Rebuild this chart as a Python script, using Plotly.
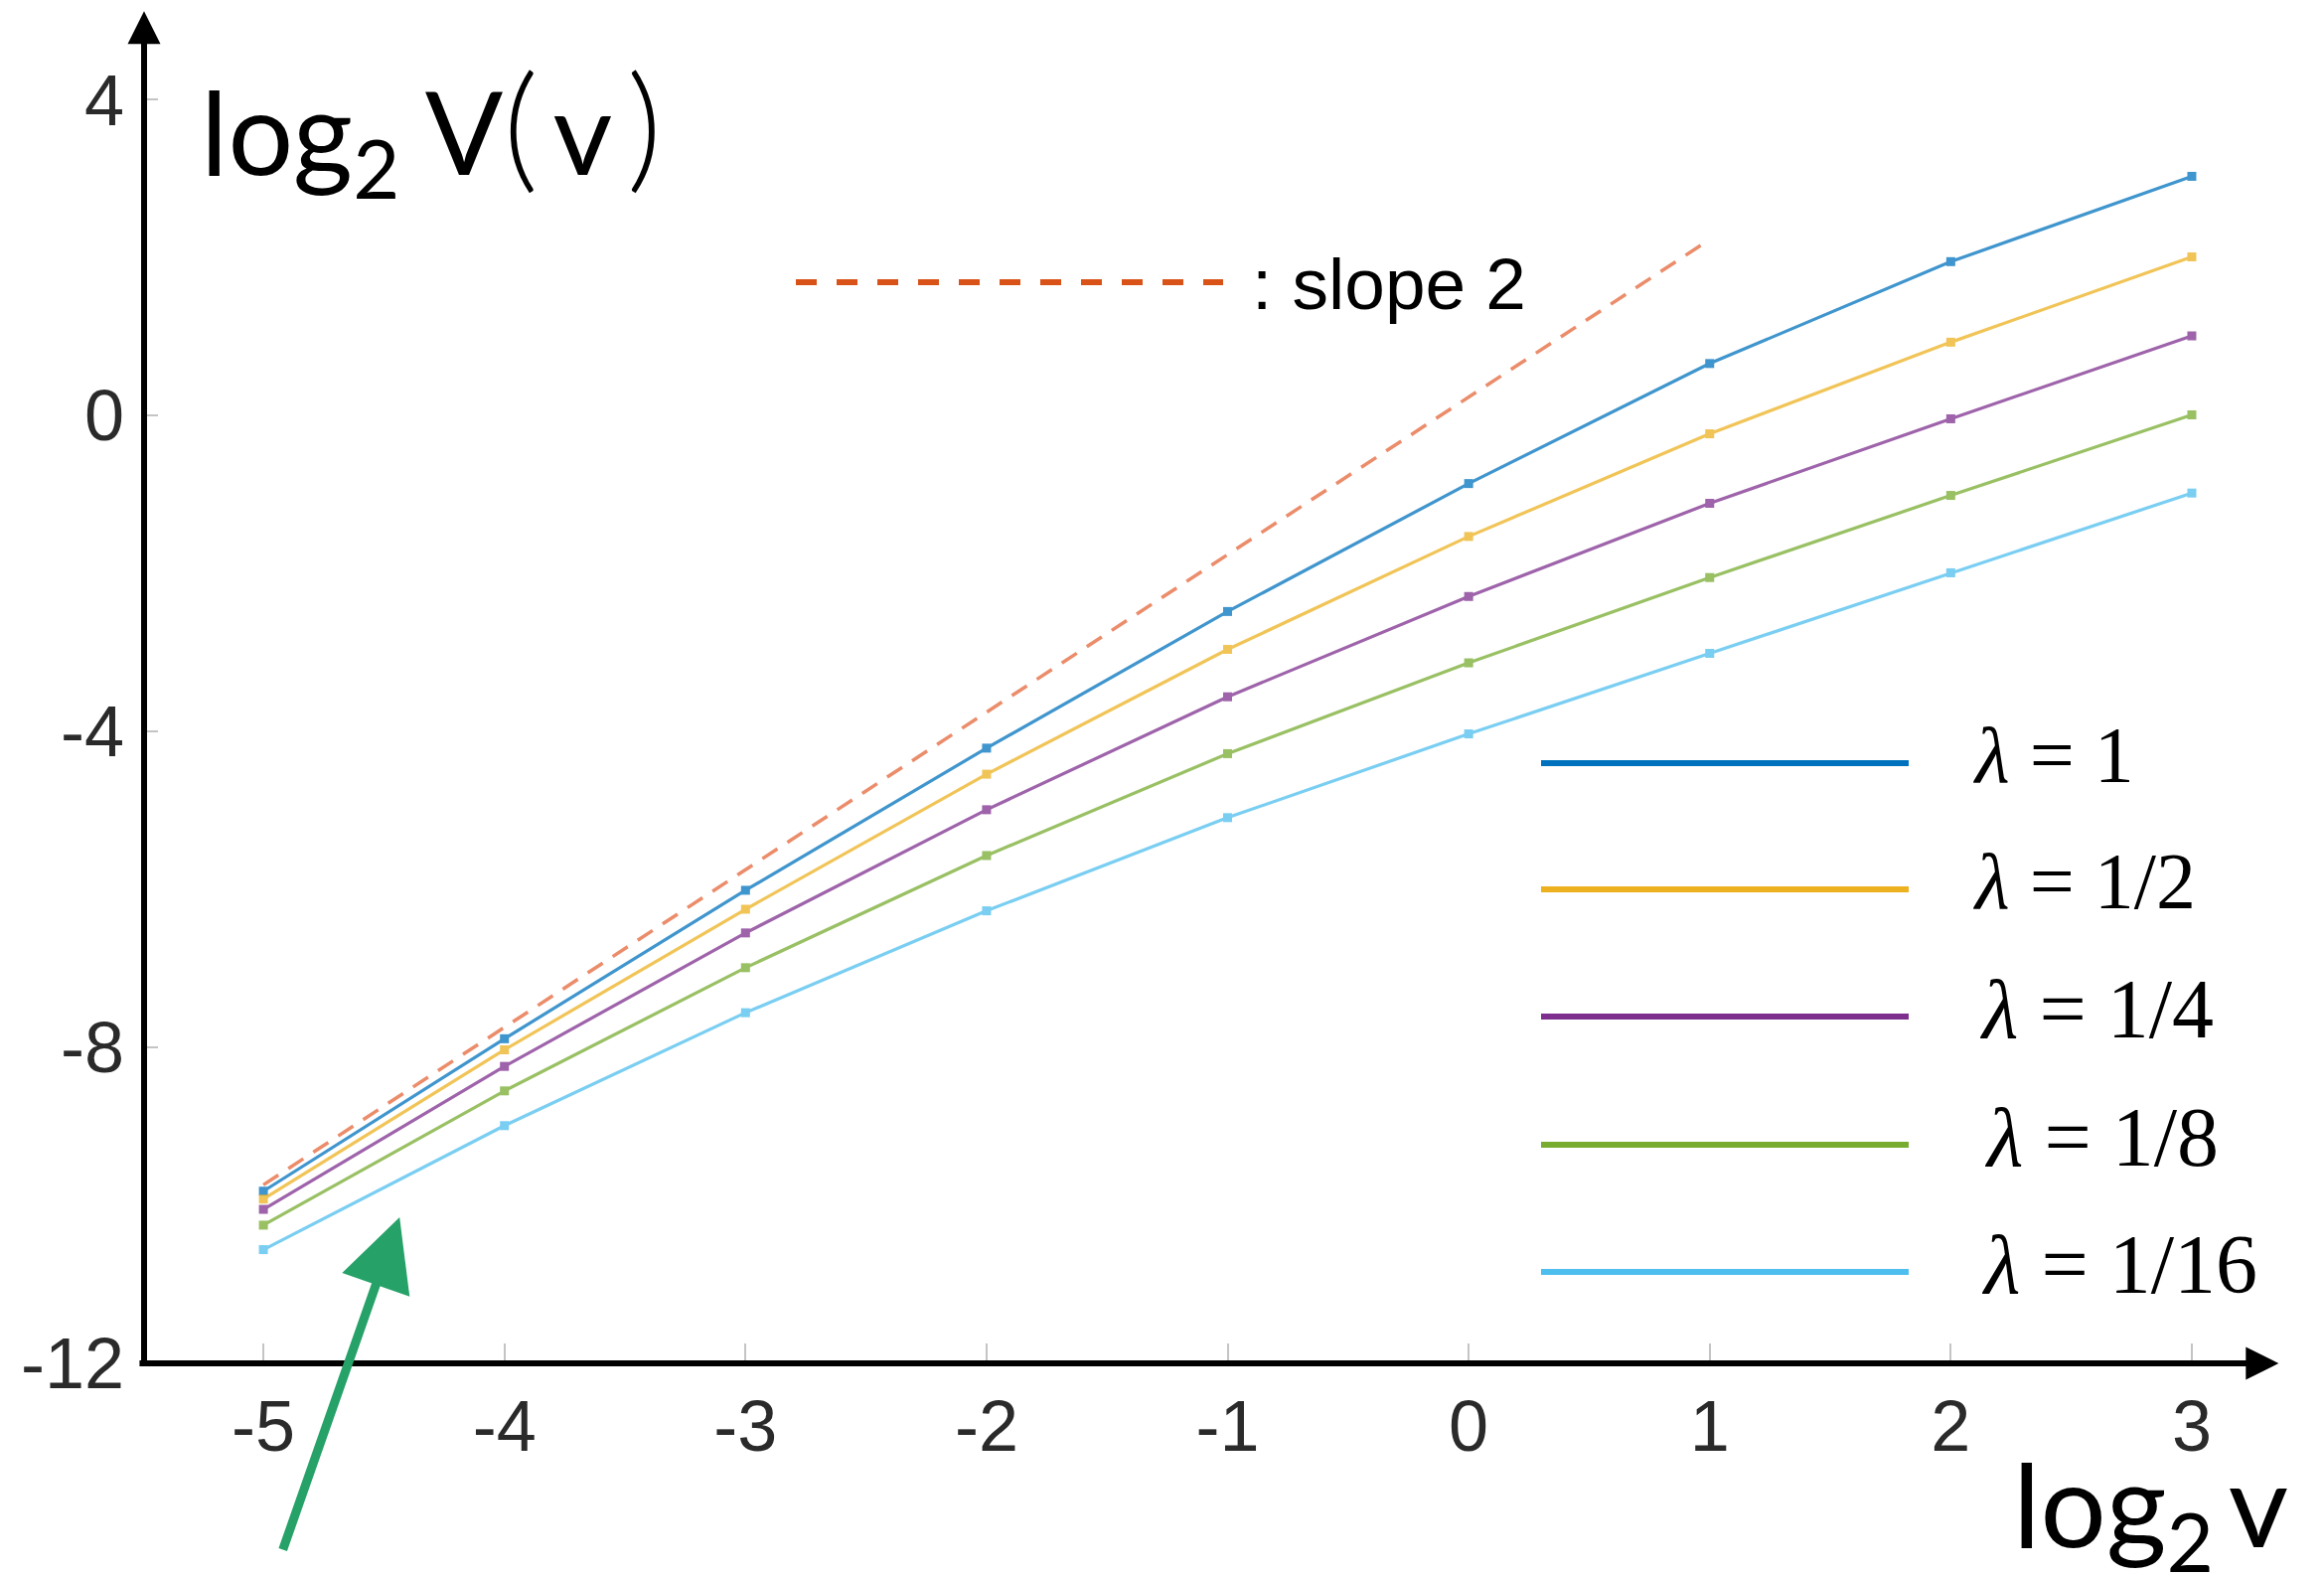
import plotly.graph_objects as go

# ---- data -------------------------------------------------------------
log2_v = [-5, -4, -3, -2, -1, 0, 1, 2, 3]
lambda_labels = ["1", "1/2", "1/4", "1/8", "1/16"]

log2V_lam_1 = [-9.82, -7.89, -6.01, -4.21, -2.48, -0.86, 0.66, 1.95, 3.03]
log2V_lam_1_2 = [-9.92, -8.03, -6.25, -4.54, -2.96, -1.53, -0.23, 0.93, 2.01]
log2V_lam_1_4 = [-10.05, -8.24, -6.55, -4.99, -3.56, -2.29, -1.11, -0.04, 1.01]
log2V_lam_1_8 = [-10.25, -8.55, -6.99, -5.57, -4.28, -3.13, -2.05, -1.01, 0.01]
log2V_lam_1_16 = [-10.56, -8.99, -7.56, -6.27, -5.09, -4.03, -3.01, -1.99, -0.98]

# reference line of slope 2
slope_x = [-5, 0.965]
slope_y = [-9.74, 2.16]

x_ticks = [-5, -4, -3, -2, -1, 0, 1, 2, 3]
y_ticks = [-12, -8, -4, 0, 4]

series = [log2V_lam_1, log2V_lam_1_2, log2V_lam_1_4, log2V_lam_1_8, log2V_lam_1_16]
colors = ["#0072BD", "#EDB120", "#7E2F8E", "#77AC30", "#4DBEEE"]

# ---- geometry helpers (pixel -> paper) --------------------------------
W, H = 2339, 1586
L, R, T, B = 145, 36, 5, 214
PW, PH = W - L - R, H - T - B


def px(xp):
    return (xp - L) / PW


def py(yp):
    return (H - B - yp) / PH


fig = go.Figure()

fig.add_trace(go.Scatter(
    x=slope_x, y=slope_y, mode="lines",
    line=dict(color="rgba(232,120,80,0.85)", width=3.5, dash="18px,12px"),
    showlegend=False, hoverinfo="skip",
))

for vals, col, lab in zip(series, colors, lambda_labels):
    fig.add_trace(go.Scatter(
        x=log2_v, y=vals, mode="lines+markers",
        name="λ = " + lab,
        line=dict(color=col, width=3.2),
        marker=dict(symbol="square", size=9, color=col),
        opacity=0.75,
        showlegend=False,
    ))

axis_font = dict(family="Liberation Sans, Arial, sans-serif", size=72, color="#2a2a2a")

fig.update_layout(
    width=W, height=H,
    margin=dict(l=L, r=R, t=T, b=B, autoexpand=False),
    paper_bgcolor="white", plot_bgcolor="white",
    xaxis=dict(
        range=[-5.495, 3.4], tickvals=x_ticks, ticktext=[str(v) for v in x_ticks],
        ticks="inside", ticklen=20, tickwidth=2, tickcolor="#c4c4c4",
        showline=False, showgrid=False, zeroline=False,
        tickfont=axis_font, ticklabelstandoff=15,
    ),
    yaxis=dict(
        range=[-12, 5.2], tickvals=y_ticks, ticktext=[str(v) for v in y_ticks],
        ticks="inside", ticklen=14, tickwidth=2, tickcolor="#c4c4c4",
        showline=False, showgrid=False, zeroline=False,
        tickfont=axis_font, ticklabelstandoff=19,
    ),
)

annotations = []
shapes = []

# axes drawn as arrows
annotations.append(dict(
    x=3.36, y=-12, ax=-5.52, ay=-12, xref="x", yref="y", axref="x", ayref="y",
    text="", showarrow=True, arrowhead=2, arrowsize=1.1, arrowwidth=6,
    arrowcolor="black", standoff=0,
))
annotations.append(dict(
    x=-5.495, y=5.12, ax=-5.495, ay=-12.04, xref="x", yref="y", axref="x", ayref="y",
    text="", showarrow=True, arrowhead=2, arrowsize=1.1, arrowwidth=6,
    arrowcolor="black", standoff=0,
))

# axis titles
paren = "<span style='font-size:138px;font-weight:300'>{}</span>"
annotations.append(dict(
    x=px(200), y=py(128), xref="paper", yref="paper", xanchor="left", yanchor="middle",
    text="log<sub>2</sub> V" + paren.format("(") + "\u2009v\u2009" + paren.format(")"),
    showarrow=False,
    font=dict(family="Lato, sans-serif", size=116, color="black"),
))
annotations.append(dict(
    x=px(2024), y=py(1520), xref="paper", yref="paper", xanchor="left", yanchor="middle",
    text="log<sub>2</sub>\u2009v", showarrow=False,
    font=dict(family="Lato, sans-serif", size=117, color="black"),
))

# slope-2 key
shapes.append(dict(
    type="line", xref="paper", yref="paper",
    x0=px(801), x1=px(1231), y0=py(284), y1=py(284),
    line=dict(color="#D95319", width=6, dash="21px,20px"),
))
annotations.append(dict(
    x=px(1258), y=py(286), xref="paper", yref="paper", xanchor="left", yanchor="middle",
    text=": slope 2", showarrow=False,
    font=dict(family="Liberation Sans, Arial, sans-serif", size=73, color="black"),
))

# lambda key
key_rows = [768, 895, 1023, 1152, 1280]
key_text_x = [1984, 1984, 1990, 1995, 1992]
key_size = [80, 80, 84, 84, 84]
for lab, col, yr, xt, fs in zip(lambda_labels, colors, key_rows, key_text_x, key_size):
    shapes.append(dict(
        type="line", xref="paper", yref="paper",
        x0=px(1551), x1=px(1921), y0=py(yr), y1=py(yr),
        line=dict(color=col, width=6),
    ))
    annotations.append(dict(
        x=px(xt), y=py(yr - 8), xref="paper", yref="paper", xanchor="left", yanchor="middle",
        text="<i>λ</i> = " + lab, showarrow=False,
        font=dict(family="Liberation Serif, serif", size=fs, color="black"),
    ))

# hand-drawn style pointer
annotations.append(dict(
    x=-4.435, y=-10.15, xref="x", yref="y", ax=-118, ay=336,
    text="", showarrow=True, arrowhead=2, arrowsize=1.6, arrowwidth=9,
    arrowcolor="#26a269", standoff=0,
))

fig.update_layout(annotations=annotations, shapes=shapes)

fig.write_html("out.html")
